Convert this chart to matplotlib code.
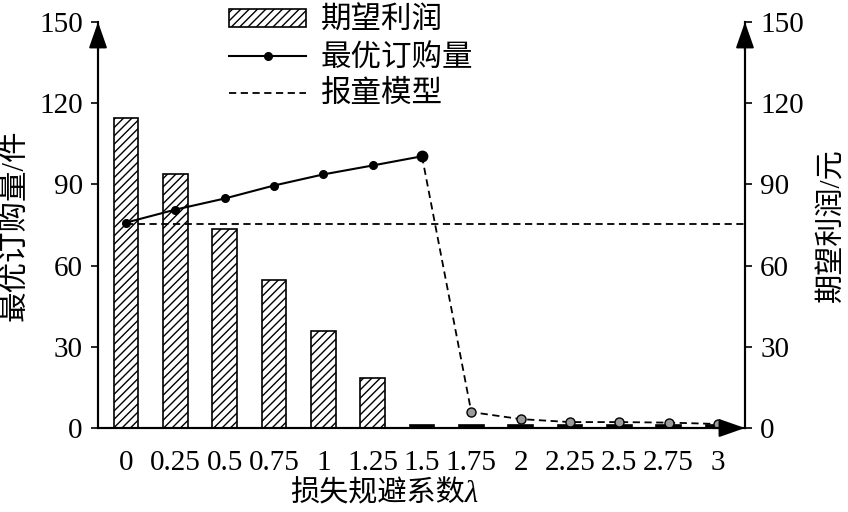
import numpy as np
import matplotlib
matplotlib.use('Agg')
import matplotlib.pyplot as plt

plt.rcParams['font.family'] = ['Liberation Serif', 'Noto Sans CJK SC']
plt.rcParams['hatch.linewidth'] = 1.0

# Data
lam_labels = ['0', '0.25', '0.5', '0.75', '1', '1.25', '1.5', '1.75', '2', '2.25', '2.5', '2.75', '3']
profit = [114.4, 93.7, 73.7, 54.8, 35.9, 18.5, 1.2, 1.2, 1.2, 1.2, 1.2, 1.2, 1.2]
order_q = [75.9, 80.7, 84.8, 89.6, 93.7, 97.0, 100.4, 5.9, 3.3, 2.2, 2.2, 2.0, 1.5]
newsvendor_q = 75.5
split = 6  # index of lambda = 1.5

x = np.arange(len(lam_labels))
xlo, xhi = -0.57, 12.55

fig = plt.figure(figsize=(8.48, 5.12), dpi=100)
ax = fig.add_axes([0.1156, 0.164, 0.7629, 0.793])
ax2 = ax.twinx()
ax.set_zorder(ax2.get_zorder() + 1)
ax.patch.set_visible(False)

# near-zero bars show as solid black slivers
faces = ['black' if p < 2 else 'white' for p in profit]
bars = ax2.bar(x, profit, width=0.5, color=faces, edgecolor='black',
               hatch='////', linewidth=1.2, label='期望利润')

ln1, = ax.plot(x[:split + 1], order_q[:split + 1], '-', color='black', lw=1.5,
               marker='o', ms=5.5, label='最优订购量')
ax.plot(x[split], order_q[split], 'o', color='black', ms=7.5)
ax.plot(x[split:], order_q[split:], color='black', lw=1.3, linestyle=(0, (4, 2.5)))
ax.plot(x[split + 1:], order_q[split + 1:], 'o', mfc='#9a9a9a', mec='black',
        mew=1.0, ms=6.5, linestyle='none')
xmin_frac = (0 - xlo) / (xhi - xlo)
ln3 = ax.axhline(newsvendor_q, xmin=xmin_frac, xmax=1, color='black', lw=1.3,
                 linestyle=(0, (4, 2.5)), label='报童模型')

for a in (ax, ax2):
    a.set_xlim(xlo, xhi)
    a.set_ylim(0, 150)
    a.set_yticks([0, 30, 60, 90, 120, 150])
    a.spines['top'].set_visible(False)
    a.spines['left'].set_linewidth(1.5)
    a.spines['right'].set_linewidth(1.5)
    a.spines['bottom'].set_linewidth(1.5)
    a.tick_params(axis='y', labelsize=21, width=1.2, length=5, pad=6)

ax.set_xticks(x)
ax.set_xticklabels(lam_labels)
ax.tick_params(axis='x', length=0, labelsize=21, pad=16)

ax.set_ylabel('最优订购量/件', fontsize=22, labelpad=6)
ax2.set_ylabel('期望利润/元', fontsize=21, labelpad=10)

# x label: Chinese text followed by an italic lambda
fig.text(0.548, 0.035, '损失规避系数', fontsize=21, ha='right', va='center')
fig.text(0.548, 0.035, 'λ', fontsize=22, ha='left', va='center',
         family='Liberation Serif', style='italic')

# arrow heads on axes
arw = dict(arrowstyle='-|>,head_length=0.8,head_width=0.28', color='black',
           lw=1.5, mutation_scale=20, shrinkA=0, shrinkB=0)
ax.annotate('', xy=(0, 1.0), xytext=(0, 0.93), xycoords='axes fraction', arrowprops=arw)
ax.annotate('', xy=(1, 1.0), xytext=(1, 0.93), xycoords='axes fraction', arrowprops=arw)
ax.annotate('', xy=(1, 0), xytext=(0.95, 0), xycoords='axes fraction', arrowprops=arw)

leg = fig.legend([bars[0], ln1, ln3], ['期望利润', '最优订购量', '报童模型'],
                 loc='upper left', bbox_to_anchor=(0.238, 1.04), frameon=False,
                 fontsize=22, handlelength=2.5, handleheight=0.5, labelspacing=0.25,
                 handletextpad=0.5)

fig.savefig('out.png', dpi=100)
